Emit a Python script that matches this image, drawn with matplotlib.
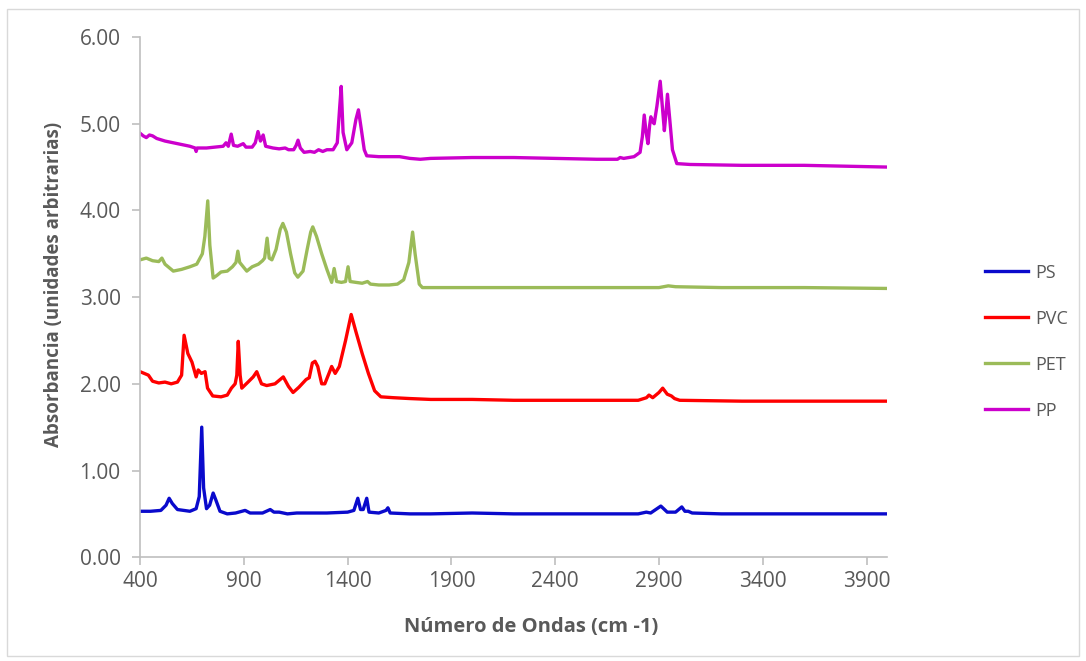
import matplotlib
matplotlib.use("Agg")
import matplotlib.pyplot as plt
from matplotlib.patches import Rectangle
from matplotlib.ticker import FormatStrFormatter

plt.rcParams['font.family'] = ['Open Sans', 'DejaVu Sans']

# spectra (wavenumber cm-1, absorbance)
ps_x = [400, 450, 500, 525, 540, 555, 580, 640, 670, 685, 697, 706, 720, 735, 752, 765,
        785, 820, 860, 906, 930, 990, 1027, 1045, 1070, 1110, 1155, 1200, 1300, 1400,
        1430, 1449, 1462, 1475, 1492, 1503, 1550, 1585, 1594, 1605, 1700, 1800, 2000,
        2200, 2500, 2800, 2839, 2860, 2909, 2940, 2980, 3010, 3025, 3041, 3060, 3200,
        3500, 3800, 4000]
ps_y = [0.53, 0.53, 0.54, 0.60, 0.68, 0.62, 0.55, 0.53, 0.56, 0.70, 1.50, 0.80, 0.56,
        0.60, 0.74, 0.66, 0.53, 0.50, 0.51, 0.54, 0.51, 0.51, 0.55, 0.52, 0.52, 0.50,
        0.51, 0.51, 0.51, 0.52, 0.54, 0.68, 0.55, 0.55, 0.68, 0.52, 0.51, 0.54, 0.57,
        0.51, 0.50, 0.50, 0.51, 0.50, 0.50, 0.50, 0.52, 0.51, 0.59, 0.52, 0.52, 0.58,
        0.53, 0.53, 0.51, 0.50, 0.50, 0.50, 0.50]

pvc_x = [400, 420, 440, 460, 490, 520, 550, 580, 600, 612, 630, 650, 670, 680, 695, 713,
         725, 750, 790, 820, 840, 858, 866, 873, 882, 890, 920, 945, 962, 985, 1010,
         1050, 1075, 1090, 1115, 1137, 1165, 1200, 1215, 1230, 1243, 1256, 1275, 1290,
         1310, 1323, 1340, 1360, 1390, 1417, 1440, 1470, 1500, 1530, 1560, 1620, 1700,
         1800, 2000, 2200, 2500, 2800, 2840, 2852, 2870, 2900, 2918, 2940, 2960, 2975,
         3000, 3300, 3600, 4000]
pvc_y = [2.14, 2.12, 2.10, 2.03, 2.01, 2.02, 2.00, 2.02, 2.10, 2.56, 2.35, 2.25, 2.08,
         2.16, 2.12, 2.14, 1.95, 1.86, 1.85, 1.87, 1.95, 2.00, 2.10, 2.49, 2.10, 1.95,
         2.02, 2.08, 2.14, 2.00, 1.98, 2.00, 2.05, 2.08, 1.97, 1.90, 1.96, 2.05, 2.07,
         2.24, 2.26, 2.20, 2.00, 2.00, 2.12, 2.20, 2.12, 2.20, 2.50, 2.80, 2.60, 2.35,
         2.12, 1.92, 1.85, 1.84, 1.83, 1.82, 1.82, 1.81, 1.81, 1.81, 1.84, 1.87, 1.84,
         1.90, 1.95, 1.88, 1.86, 1.83, 1.81, 1.80, 1.80, 1.80]

pet_x = [400, 430, 460, 490, 505, 520, 560, 600, 640, 673, 700, 712, 726, 736, 752, 770,
         790, 820, 845, 862, 871, 880, 914, 940, 970, 990, 1000, 1012, 1022, 1035, 1055,
         1075, 1088, 1105, 1125, 1145, 1160, 1185, 1205, 1222, 1232, 1250, 1275, 1300,
         1323, 1335, 1347, 1370, 1390, 1402, 1412, 1440, 1470, 1496, 1510, 1550, 1600,
         1640, 1670, 1695, 1713, 1725, 1745, 1760, 1900, 2100, 2400, 2700, 2900, 2945,
         2980, 3200, 3600, 4000]
pet_y = [3.43, 3.45, 3.42, 3.41, 3.45, 3.38, 3.30, 3.32, 3.35, 3.38, 3.50, 3.70, 4.11,
         3.60, 3.22, 3.25, 3.29, 3.30, 3.35, 3.40, 3.53, 3.40, 3.30, 3.35, 3.38, 3.42,
         3.45, 3.68, 3.45, 3.43, 3.55, 3.78, 3.85, 3.75, 3.50, 3.28, 3.23, 3.30, 3.55,
         3.75, 3.81, 3.70, 3.50, 3.32, 3.17, 3.33, 3.18, 3.17, 3.18, 3.35, 3.18, 3.17,
         3.16, 3.18, 3.15, 3.14, 3.14, 3.15, 3.20, 3.40, 3.75, 3.50, 3.15, 3.11, 3.11,
         3.11, 3.11, 3.11, 3.11, 3.13, 3.12, 3.11, 3.11, 3.10]

pp_x = [400, 415, 430, 445, 460, 480, 520, 560, 600, 640, 665, 670, 675, 720, 760, 800,
        814, 825, 839, 850, 870, 897, 910, 940, 955, 968, 980, 993, 1005, 1040, 1070,
        1099, 1115, 1140, 1152, 1161, 1172, 1190, 1220, 1240, 1260, 1280, 1300, 1330,
        1350, 1362, 1369, 1378, 1396, 1420, 1440, 1452, 1465, 1480, 1492, 1550, 1650,
        1700, 1750, 1800, 2000, 2200, 2400, 2600, 2700, 2713, 2730, 2780, 2809, 2820,
        2829, 2838, 2847, 2855, 2861, 2870, 2877, 2890, 2906, 2918, 2926, 2933, 2941,
        2952, 2965, 2986, 3050, 3300, 3600, 3800, 4000]
pp_y = [4.89, 4.86, 4.84, 4.87, 4.86, 4.83, 4.80, 4.78, 4.76, 4.74, 4.72, 4.68, 4.72,
        4.72, 4.73, 4.74, 4.78, 4.74, 4.88, 4.75, 4.74, 4.77, 4.73, 4.73, 4.78, 4.91,
        4.80, 4.87, 4.74, 4.72, 4.71, 4.72, 4.70, 4.70, 4.75, 4.81, 4.72, 4.67, 4.68,
        4.67, 4.70, 4.68, 4.70, 4.70, 4.78, 5.20, 5.43, 4.90, 4.70, 4.78, 5.05, 5.16,
        4.95, 4.70, 4.63, 4.62, 4.62, 4.60, 4.59, 4.60, 4.61, 4.61, 4.60, 4.59, 4.59,
        4.61, 4.60, 4.62, 4.67, 4.85, 5.10, 4.90, 4.77, 4.98, 5.08, 5.02, 5.00, 5.20,
        5.49, 5.15, 4.92, 5.10, 5.34, 5.05, 4.70, 4.54, 4.53, 4.52, 4.52, 4.51, 4.50]

x_ticks = [400, 900, 1400, 1900, 2400, 2900, 3400, 3900]
y_ticks = [0, 1, 2, 3, 4, 5, 6]

txt = '#595959'
axis_col = '#BFBFBF'

fig = plt.figure(figsize=(10.86, 6.61), dpi=100)
ax = fig.add_axes([0.129, 0.157, 0.688, 0.787])

ax.plot(ps_x, ps_y, color='#0A0ACC', lw=2.4, label='PS')
ax.plot(pvc_x, pvc_y, color='#FF0000', lw=2.4, label='PVC')
ax.plot(pet_x, pet_y, color='#9BBB59', lw=2.4, label='PET')
ax.plot(pp_x, pp_y, color='#CC00CC', lw=2.4, label='PP')

ax.set_xlim(400, 4000)
ax.set_ylim(0, 6)
ax.set_xticks(x_ticks)
ax.set_yticks(y_ticks)
ax.yaxis.set_major_formatter(FormatStrFormatter('%.2f'))

for s in ['top', 'right']:
    ax.spines[s].set_visible(False)
for s in ['left', 'bottom']:
    ax.spines[s].set_color(axis_col)
    ax.spines[s].set_linewidth(1.2)
ax.tick_params(colors=axis_col, labelcolor=txt, labelsize=15, length=6, width=1.2)
ax.tick_params(axis='x', pad=4)
ax.tick_params(axis='y', pad=8)

ax.set_xlabel('Número de Ondas (cm -1)', fontsize=14.5, fontweight='bold', color=txt)
ax.set_ylabel('Absorbancia (unidades arbitrarias)', fontsize=13.5, fontweight='bold', color=txt)
ax.xaxis.set_label_coords(0.523, -0.115)
ax.yaxis.set_label_coords(-0.102, 0.525)

fig.legend(loc='center left', bbox_to_anchor=(0.9, 0.483), frameon=False, borderaxespad=0,
           fontsize=13, labelcolor=txt, labelspacing=1.55, handlelength=2.4, handletextpad=0.4)

fig.patches.append(Rectangle((0.006, 0.008), 0.988, 0.978, transform=fig.transFigure,
                             fill=False, edgecolor='#D9D9D9', lw=1))

fig.savefig('out.png', dpi=100)
